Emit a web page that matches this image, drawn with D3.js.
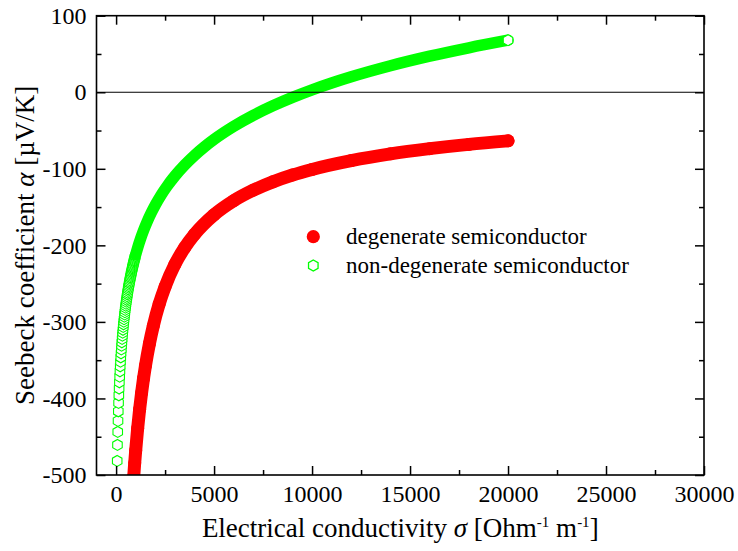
<!DOCTYPE html>
<html><head><meta charset="utf-8">
<script src="https://cdn.jsdelivr.net/npm/d3@7"></script>
<style>body{margin:0;background:#fff} svg{display:block}</style>
</head><body>
<svg id="c" width="738" height="551"></svg>
<script>
// ---- data ----
const xMajor = [0, 5000, 10000, 15000, 20000, 25000, 30000];
const xMinor = [2500, 7500, 12500, 17500, 22500, 27500];
const yMajor = [-500, -400, -300, -200, -100, 0, 100];
const yMinor = [-450, -350, -250, -150, -50, 50];
const seriesNames = ["degenerate semiconductor", "non-degenerate semiconductor"];

// degenerate semiconductor (filled red circles)
const degSigma = [880, 900, 950, 1000, 1100, 1200, 1300, 1400, 1500, 1700, 1900, 2200, 2500, 3000, 3500, 4000, 5000, 6000, 7000, 8000, 9000, 10000, 12000, 14000, 16000, 18000, 20000];
const degAlpha = [-509.5, -501.9, -484.1, -467.9, -439.0, -414.3, -392.8, -373.9, -357.1, -328.5, -305.0, -276.6, -254.0, -224.9, -203.0, -185.7, -160.0, -141.7, -127.9, -117.0, -108.1, -100.8, -89.3, -80.5, -73.7, -68.1, -63.5];

// non-degenerate semiconductor (open green hexagons)
const nonSigma = [56, 70, 84, 98, 112, 126, 140, 154, 168, 182, 196, 210, 224, 238, 252, 266, 280, 294, 308, 322, 336, 350,
  364, 378, 392, 406, 420, 434, 448, 462, 476, 490,
  504, 518, 532, 546, 560, 574, 588, 602, 616, 630, 644, 658, 672, 686, 700, 714, 728, 742, 756, 770, 784, 798,
  812, 826, 840, 854, 868, 882, 896, 910, 924, 938, 952, 966, 980, 994,
  1100, 1250, 1400, 1600, 1800, 2000, 2300, 2600, 3000, 3500, 4000, 4500, 5000, 6000, 7000, 8000, 9000, 10000, 11000, 12000, 14000, 16000, 18000, 20000];
const nonAlpha = [-481.6, -460.7, -443.7, -429.3, -416.8, -405.8, -395.9, -387.0, -378.9, -371.5, -364.5, -358.0, -352.0, -346.3, -341.0, -335.9, -331.1, -326.6, -322.2, -318.0, -314.1, -310.3,
  -306.6, -303.1, -299.7, -296.4, -293.2, -290.2, -287.2, -284.3, -281.5, -278.8,
  -276.2, -273.6, -271.1, -268.7, -266.3, -264.0, -261.8, -259.6, -257.4, -255.3, -253.3, -251.3, -249.3, -247.4, -245.5, -243.6, -241.8, -240.0, -238.3, -236.6, -234.9, -233.2,
  -231.6, -230.0, -228.4, -226.9, -225.4, -223.9, -222.4, -220.9, -219.5, -218.1, -216.7, -215.4, -214.0, -212.7,
  -203.2, -191.3, -180.7, -168.2, -157.2, -147.3, -134.2, -122.8, -109.4, -95.0, -82.5, -71.5, -61.6, -44.6, -30.2, -17.7, -6.7, 3.2, 12.1, 20.2, 34.6, 47.1, 58.1, 68.0];

// ---- layout ----
const L = 96.5, R = 704, T = 15.7, B = 475;
const RED = "#ff0000", GREEN = "#00ff00";
const FONT = "'Liberation Serif','Times New Roman',serif";

const svg = d3.select("#c");
const x = d3.scaleLinear().domain([-1000, 30000]).range([L, R]);
const y = d3.scaleLinear().domain([-500, 100]).range([B, T]);

svg.append("defs").append("clipPath").attr("id", "clip")
  .append("rect").attr("x", L).attr("y", T).attr("width", R - L).attr("height", B - T);

const deg = degSigma.map((s, i) => ({s, a: degAlpha[i]}));
const non = nonSigma.map((s, i) => ({s, a: nonAlpha[i]}));

function hexPath(r) {
  const p = [];
  for (let i = 0; i < 6; i++) {
    const ang = Math.PI / 180 * (60 * i - 90);
    p.push([r * Math.cos(ang), r * Math.sin(ang)]);
  }
  return "M" + p.map(q => q[0].toFixed(2) + "," + q[1].toFixed(2)).join("L") + "Z";
}
const HEX = hexPath(5.5);

const plot = svg.append("g").attr("clip-path", "url(#clip)");
const line = d3.line().x(d => x(d.s)).y(d => y(d.a)).curve(d3.curveMonotoneX);

// red degenerate series
plot.append("path").datum(deg).attr("d", line)
  .attr("fill", "none").attr("stroke", RED).attr("stroke-width", 13)
  .attr("stroke-linecap", "round").attr("stroke-linejoin", "round");
plot.selectAll("circle.deg").data(deg).join("circle").attr("class", "deg")
  .attr("cx", d => x(d.s)).attr("cy", d => y(d.a)).attr("r", 6.5).attr("fill", RED);

// green non-degenerate series
const SPLIT = 994;
const sparse = non.filter(d => d.s < SPLIT);
const dense = non.filter(d => d.s >= SPLIT);
plot.selectAll("path.hex").data(sparse).join("path").attr("class", "hex")
  .attr("d", HEX).attr("transform", d => `translate(${x(d.s)},${y(d.a)})`)
  .attr("fill", "#fff").attr("stroke", GREEN).attr("stroke-width", 1.1);
plot.append("path").datum(dense).attr("d", line)
  .attr("fill", "none").attr("stroke", GREEN).attr("stroke-width", 11.5)
  .attr("stroke-linecap", "round").attr("stroke-linejoin", "round");
const last = non[non.length - 1];
plot.append("path").attr("d", HEX).attr("transform", `translate(${x(last.s)},${y(last.a)})`)
  .attr("fill", "#fff").attr("stroke", GREEN).attr("stroke-width", 1.1);

// zero line
svg.append("line").attr("x1", L).attr("x2", R).attr("y1", y(0)).attr("y2", y(0))
  .attr("stroke", "#000").attr("stroke-width", 1.2);

// ---- axes ----
const fmt = d => String(d);
function styleAxis(g) {
  g.select(".domain").remove();
  g.selectAll(".tick line").attr("stroke", "#000").attr("stroke-width", 1.5);
  g.selectAll("text").attr("font-family", FONT).attr("font-size", 24).attr("fill", "#000");
}
svg.append("g").attr("transform", `translate(0,${B})`)
  .call(d3.axisBottom(x).tickValues(xMajor).tickSize(-9).tickPadding(10).tickFormat(fmt)).call(styleAxis);
svg.append("g").attr("transform", `translate(0,${B})`)
  .call(d3.axisBottom(x).tickValues(xMinor).tickSize(-5).tickFormat("")).call(styleAxis);
svg.append("g").attr("transform", `translate(0,${T})`)
  .call(d3.axisTop(x).tickValues(xMajor).tickSize(-9).tickFormat("")).call(styleAxis);
svg.append("g").attr("transform", `translate(0,${T})`)
  .call(d3.axisTop(x).tickValues(xMinor).tickSize(-5).tickFormat("")).call(styleAxis);
svg.append("g").attr("transform", `translate(${L},0)`)
  .call(d3.axisLeft(y).tickValues(yMajor).tickSize(-9).tickPadding(10).tickFormat(fmt)).call(styleAxis);
svg.append("g").attr("transform", `translate(${L},0)`)
  .call(d3.axisLeft(y).tickValues(yMinor).tickSize(-5).tickFormat("")).call(styleAxis);
svg.append("g").attr("transform", `translate(${R},0)`)
  .call(d3.axisRight(y).tickValues(yMajor).tickSize(-9).tickFormat("")).call(styleAxis);
svg.append("g").attr("transform", `translate(${R},0)`)
  .call(d3.axisRight(y).tickValues(yMinor).tickSize(-5).tickFormat("")).call(styleAxis);

svg.append("rect").attr("x", L).attr("y", T).attr("width", R - L).attr("height", B - T)
  .attr("fill", "none").attr("stroke", "#000").attr("stroke-width", 1.6);

// ---- axis titles ----
const xt = svg.append("text").attr("x", (L + R) / 2).attr("y", 537)
  .attr("text-anchor", "middle").attr("font-family", FONT).attr("font-size", 27).attr("fill", "#000");
xt.append("tspan").text("Electrical conductivity ");
xt.append("tspan").attr("font-style", "italic").text("σ");
xt.append("tspan").text(" [Ohm");
xt.append("tspan").attr("font-size", 15).attr("dy", -10).text("-1");
xt.append("tspan").attr("dy", 10).text(" m");
xt.append("tspan").attr("font-size", 15).attr("dy", -10).text("-1");
xt.append("tspan").attr("dy", 10).text("]");

const yt = svg.append("text").attr("transform", `translate(34,${(T + B) / 2}) rotate(-90)`)
  .attr("text-anchor", "middle").attr("font-family", FONT).attr("font-size", 27).attr("fill", "#000");
yt.append("tspan").text("Seebeck coefficient ");
yt.append("tspan").attr("font-style", "italic").text("α");
yt.append("tspan").text(" [µV/K]");

// ---- legend ----
const lg = svg.append("g").attr("font-family", FONT).attr("font-size", 23).attr("fill", "#000");
lg.append("circle").attr("cx", 313.3).attr("cy", 236.7).attr("r", 6.6).attr("fill", RED);
lg.append("text").attr("x", 346).attr("y", 244).text(seriesNames[0]);
lg.append("path").attr("d", HEX).attr("transform", "translate(313.3,265.5)")
  .attr("fill", "#fff").attr("stroke", GREEN).attr("stroke-width", 1.3);
lg.append("text").attr("x", 346).attr("y", 272.5).text(seriesNames[1]);
</script>
</body></html>
